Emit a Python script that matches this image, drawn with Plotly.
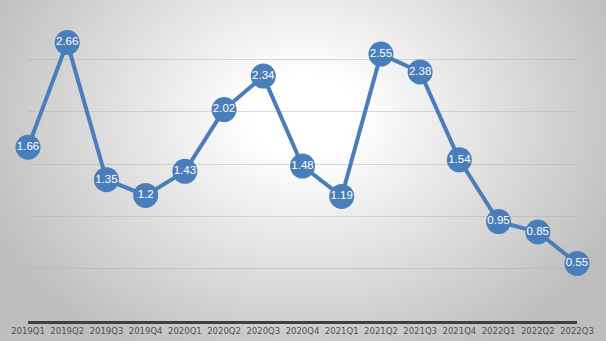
import numpy as np
import plotly.graph_objects as go

quarters = ["2019Q1", "2019Q2", "2019Q3", "2019Q4", "2020Q1", "2020Q2", "2020Q3", "2020Q4",
            "2021Q1", "2021Q2", "2021Q3", "2021Q4", "2022Q1", "2022Q2", "2022Q3"]
values = [1.66, 2.66, 1.35, 1.2, 1.43, 2.02, 2.34, 1.48, 1.19, 2.55, 2.38, 1.54, 0.95, 0.85, 0.55]

W, H = 606, 341

# radial gradient background
nx, ny = 121, 69
gx = np.linspace(0, W, nx)
gy = np.linspace(0, H, ny)
X, Y = np.meshgrid(gx, gy)
cx, cy = 303, 115
d = np.sqrt(((X - cx) / 340) ** 2 + ((Y - cy) / 270) ** 2)
z = np.clip(1 - d, 0, 1)

fig = go.Figure()
fig.add_trace(go.Heatmap(
    x=gx, y=gy, z=z, zsmooth="best", showscale=False, hoverinfo="skip",
    colorscale=[[0, "rgb(190,190,190)"], [1, "rgb(255,255,255)"]],
    xaxis="x", yaxis="y", zmin=0, zmax=0.85,
))

fig.add_trace(go.Scatter(
    x=quarters, y=values, mode="lines+markers+text",
    line=dict(color="#4a7ebb", width=4),
    marker=dict(size=25, color="#4a7ebb"),
    text=[f"{v:g}" for v in values], textposition="middle center",
    textfont=dict(family="Liberation Sans", size=11.5, color="white"),
    cliponaxis=False, hoverinfo="skip",
    xaxis="x2", yaxis="y2",
))

fig.update_layout(
    width=W, height=H,
    margin=dict(l=0, r=0, t=0, b=0, autoexpand=False),
    paper_bgcolor="#c8c8c8",
    plot_bgcolor="rgba(0,0,0,0)",
    showlegend=False,
    xaxis=dict(domain=[0, 1], range=[0, W], visible=False, fixedrange=True),
    yaxis=dict(domain=[0, 1], range=[H, 0], visible=False, fixedrange=True),
    xaxis2=dict(
        domain=[28 / W, 577 / W], range=[0, 14], anchor="y2",
        showline=True, linecolor="#404040", linewidth=3,
        showgrid=False, ticks="", zeroline=False, tickangle=0, automargin=False,
        tickfont=dict(family="DejaVu Sans", size=8.5, color="#505050"),
    ),
    yaxis2=dict(
        domain=[(H - 321) / H, (H - 7) / H], range=[0, 3], anchor="x2",
        showgrid=True, gridcolor="rgba(175,175,175,0.45)", gridwidth=1, automargin=False,
        dtick=0.5, showticklabels=False, zeroline=False, showline=False,
    ),
)

fig.write_html("out.html")
